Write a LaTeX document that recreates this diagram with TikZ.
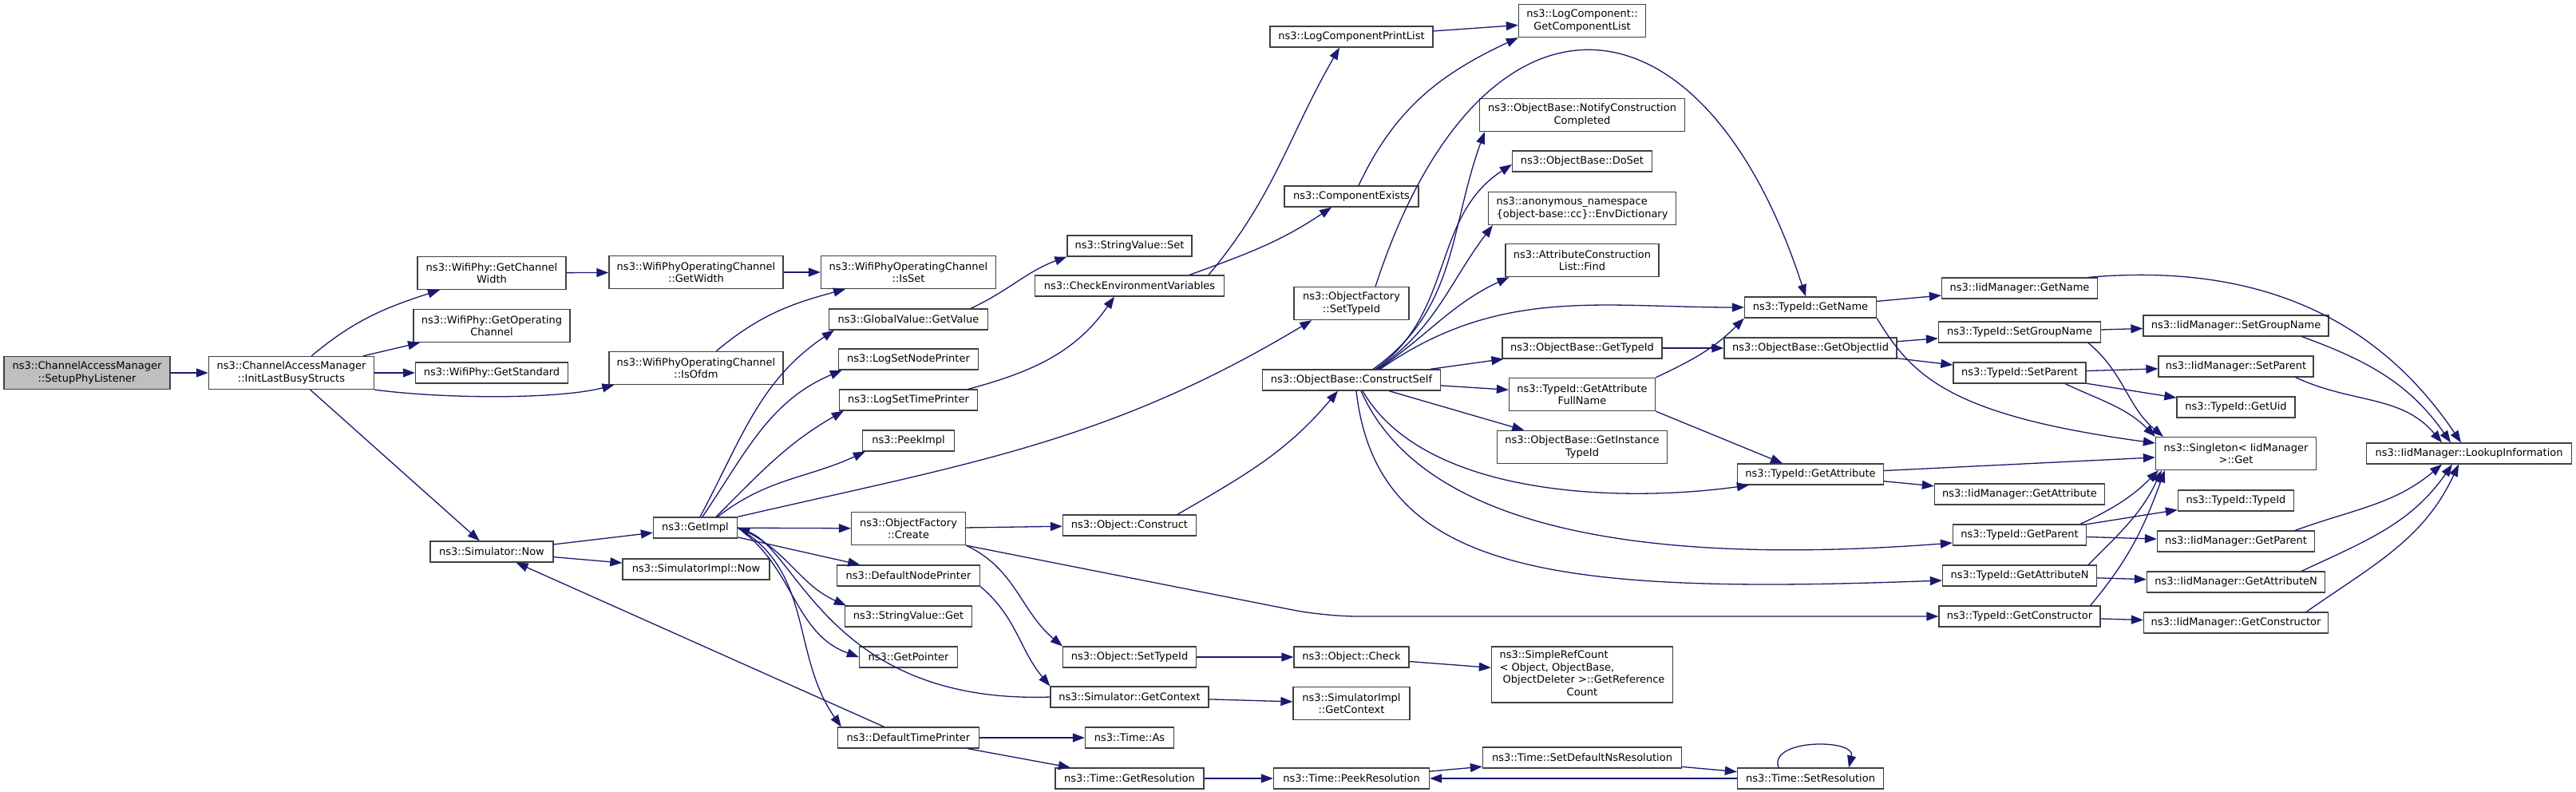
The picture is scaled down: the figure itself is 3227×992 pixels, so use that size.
\documentclass[tikz,border=0pt]{standalone}
\usepackage{fontspec}
\usepackage{tikz}
\usepackage{xcolor}
\usetikzlibrary{arrows.meta}
\newfontfamily\graphfont{DejaVu Sans}
\newcommand{\nodefont}{\graphfont\fontsize{13}{15.5}\selectfont}
\definecolor{midnight}{RGB}{25,25,112}
\definecolor{grey25}{RGB}{64,64,64}
\definecolor{grey75}{RGB}{191,191,191}
\tikzset{
    fn/.style={draw=grey25, fill=white, line width=1.3pt, font=\nodefont, minimum height=26pt, inner sep=1pt, align=center},
    fn2/.style={fn, minimum height=41pt},
    rootfn/.style={fn2, fill=grey75},
    call/.style={draw=midnight, line width=1.3pt, -{Triangle[length=15pt, width=11pt]}}
}
\begin{document}
\begin{tikzpicture}[x=1pt, y=1pt]
\fill[white] (0,0) rectangle (3227,-992);
\useasboundingbox (0,0) rectangle (3227,-992);

% Root and first calls
\node[rootfn, minimum width=208pt] (setup) at (109,-467) {ns3::ChannelAccessManager\\::SetupPhyListener};
\node[fn2, minimum width=207pt] (init) at (365,-467) {ns3::ChannelAccessManager\\::InitLastBusyStructs};
\node[fn2, minimum width=186pt] (gcw) at (616,-342) {ns3::WifiPhy::GetChannel\\Width};
\node[fn2, minimum width=196pt] (goc) at (616,-408) {ns3::WifiPhy::GetOperating\\Channel};
\node[fn, minimum width=191pt] (gstd) at (616,-467) {ns3::WifiPhy::GetStandard};
\node[fn, minimum width=154pt] (now) at (616,-691) {ns3::Simulator::Now};

% Operating channel and simulator
\node[fn2, minimum width=218pt] (owidth) at (872,-341) {ns3::WifiPhyOperatingChannel\\::GetWidth};
\node[fn2, minimum width=218pt] (oofdm) at (872,-461) {ns3::WifiPhyOperatingChannel\\::IsOfdm};
\node[fn, minimum width=105pt] (getimpl) at (871,-661) {ns3::GetImpl};
\node[fn, minimum width=184pt] (simimplnow) at (872,-713) {ns3::SimulatorImpl::Now};

% Callees of GetImpl
\node[fn2, minimum width=219pt] (isset) at (1138,-341) {ns3::WifiPhyOperatingChannel\\::IsSet};
\node[fn, minimum width=199pt] (gval) at (1138,-400) {ns3::GlobalValue::GetValue};
\node[fn, minimum width=175pt] (lnode) at (1138,-450) {ns3::LogSetNodePrinter};
\node[fn, minimum width=173pt] (ltime) at (1138,-501) {ns3::LogSetTimePrinter};
\node[fn, minimum width=115pt] (peek) at (1138,-552) {ns3::PeekImpl};
\node[fn2, minimum width=143pt] (ofcreate) at (1138,-662) {ns3::ObjectFactory\\::Create};
\node[fn, minimum width=179pt] (dnode) at (1138,-721) {ns3::DefaultNodePrinter};
\node[fn, minimum width=159pt] (svget) at (1138,-772) {ns3::StringValue::Get};
\node[fn, minimum width=123pt] (getptr) at (1138,-823) {ns3::GetPointer};
\node[fn, minimum width=177pt] (dtime) at (1138,-924) {ns3::DefaultTimePrinter};

\node[fn, minimum width=156pt] (svset) at (1415,-308) {ns3::StringValue::Set};
\node[fn, minimum width=237pt] (checkenv) at (1415,-358) {ns3::CheckEnvironmentVariables};
\node[fn, minimum width=167pt] (construct) at (1415,-658) {ns3::Object::Construct};
\node[fn, minimum width=167pt] (settypeid) at (1415,-823) {ns3::Object::SetTypeId};
\node[fn, minimum width=198pt] (getctx) at (1415,-873) {ns3::Simulator::GetContext};
\node[fn, minimum width=111pt] (timeas) at (1415,-924) {ns3::Time::As};
\node[fn, minimum width=186pt] (getres) at (1415,-975) {ns3::Time::GetResolution};

% Log components and object construction
\node[fn, minimum width=204pt] (lcpl) at (1693,-46) {ns3::LogComponentPrintList};
\node[fn, minimum width=168pt] (compex) at (1693,-246) {ns3::ComponentExists};
\node[fn2, minimum width=144pt] (ofsettid) at (1693,-380) {ns3::ObjectFactory\\::SetTypeId};
\node[fn, minimum width=223pt] (cself) at (1693,-476) {ns3::ObjectBase::ConstructSelf};
\node[fn, minimum width=144pt] (ocheck) at (1693,-823) {ns3::Object::Check};
\node[fn2, minimum width=146pt] (simimplctx) at (1693,-881) {ns3::SimulatorImpl\\::GetContext};
\node[fn, minimum width=195pt] (peekres) at (1693,-975) {ns3::Time::PeekResolution};

\node[fn2, minimum width=159pt] (lcgcl) at (1982,-26) {ns3::LogComponent::\\GetComponentList};
\node[fn2, minimum width=257pt] (notify) at (1982,-144) {ns3::ObjectBase::NotifyConstruction\\Completed};
\node[fn, minimum width=175pt] (doset) at (1982,-202) {ns3::ObjectBase::DoSet};
\node[fn2, minimum width=235pt, align=left] (envdict) at (1982,-261) {ns3::anonymous\_namespace\\\{object-base::cc\}::EnvDictionary};
\node[fn2, minimum width=192pt] (acfind) at (1982,-326) {ns3::AttributeConstruction\\List::Find};
\node[fn, minimum width=200pt] (obgettid) at (1982,-436) {ns3::ObjectBase::GetTypeId};
\node[fn2, minimum width=183pt] (tgafn) at (1982,-494) {ns3::TypeId::GetAttribute\\FullName};
\node[fn2, minimum width=213pt] (obgetitid) at (1982,-560) {ns3::ObjectBase::GetInstance\\TypeId};
\node[fn, minimum width=227pt, minimum height=70pt] (simpleref) at (1982,-845) {\begin{tabular}{@{}l@{}}ns3::SimpleRefCount\\< Object, ObjectBase,\\\ ObjectDeleter >::GetReference\\\multicolumn{1}{@{}c@{}}{Count}\end{tabular}};
\node[fn, minimum width=249pt] (setdefns) at (1982,-949) {ns3::Time::SetDefaultNsResolution};

% TypeId and IidManager
\node[fn, minimum width=165pt] (tgetname) at (2268,-385) {ns3::TypeId::GetName};
\node[fn, minimum width=216pt] (obgetoid) at (2268,-436) {ns3::ObjectBase::GetObjectIid};
\node[fn, minimum width=183pt] (tgetattr) at (2268,-594) {ns3::TypeId::GetAttribute};
\node[fn, minimum width=183pt] (setres) at (2268,-975) {ns3::Time::SetResolution};

\node[fn, minimum width=195pt] (iidgetname) at (2530,-361) {ns3::IidManager::GetName};
\node[fn, minimum width=203pt] (tsetgroup) at (2530,-416) {ns3::TypeId::SetGroupName};
\node[fn, minimum width=166pt] (tsetparent) at (2530,-467) {ns3::TypeId::SetParent};
\node[fn, minimum width=213pt] (iidgetattr) at (2530,-619) {ns3::IidManager::GetAttribute};
\node[fn, minimum width=167pt] (tgetparent) at (2530,-670) {ns3::TypeId::GetParent};
\node[fn, minimum width=193pt] (tgetattrn) at (2530,-721) {ns3::TypeId::GetAttributeN};
\node[fn, minimum width=202pt] (tgetctor) at (2530,-772) {ns3::TypeId::GetConstructor};

\node[fn, minimum width=232pt] (iidsetgroup) at (2801,-408) {ns3::IidManager::SetGroupName};
\node[fn, minimum width=194pt] (iidsetparent) at (2801,-459) {ns3::IidManager::SetParent};
\node[fn, minimum width=148pt] (tgetuid) at (2801,-510) {ns3::TypeId::GetUid};
\node[fn2, minimum width=201pt] (singleton) at (2801,-568) {ns3::Singleton< IidManager\\>::Get};
\node[fn, minimum width=145pt] (ttypeid) at (2801,-627) {ns3::TypeId::TypeId};
\node[fn, minimum width=197pt] (iidgetparent) at (2801,-678) {ns3::IidManager::GetParent};
\node[fn, minimum width=223pt] (iidgetattrn) at (2801,-729) {ns3::IidManager::GetAttributeN};
\node[fn, minimum width=231pt] (iidgetctor) at (2801,-780) {ns3::IidManager::GetConstructor};
\node[fn, minimum width=257pt] (iidlookup) at (3093,-568) {ns3::IidManager::LookupInformation};

% Calls from the root
\draw[call] (setup) -- (init);
\draw[call] (init) to[out=40, in=198] (gcw);
\draw[call] (init) -- (goc);
\draw[call] (init) -- (gstd);
\draw[call] (init.south east) .. controls (560,-500) and (700,-500) .. ([xshift=7pt]oofdm.south west);
\draw[call] (init) -- (now);
\draw[call] (gcw) -- (owidth);
\draw[call] (owidth) -- (isset);
\draw[call] (oofdm) to[out=40, in=195] (isset);
\draw[call] (now) -- (getimpl);
\draw[call] (now) -- (simimplnow);
\draw[call] (dtime) -- (now);

% Calls from GetImpl
\draw[call] ([xshift=6pt]getimpl.north) to[out=62, in=214] ([xshift=7pt]gval.south west);
\draw[call] ([xshift=9pt]getimpl.north) to[out=56, in=203] ([xshift=5pt]lnode.south west);
\draw[call] ([xshift=26pt]getimpl.north) to[out=45, in=210] ([xshift=6pt]ltime.south west);
\draw[call] ([xshift=28pt]getimpl.north) to[out=38, in=205] ([xshift=4pt]peek.south west);
\draw[call] (getimpl.north east) to[out=13, in=211] ([xshift=23pt]ofsettid.south west);
\draw[call] (getimpl) -- (ofcreate);
\draw[call] (getimpl) -- (dnode);
\draw[call] (getimpl.east) to[out=-22, in=156] ([xshift=2pt]svget.north west);
\draw[call] (getimpl.east) to[out=-35, in=160] (getptr.west);
\draw[call] (getimpl.east) to[out=-30, in=125] ([xshift=5pt]dtime.north west);
\draw[call] (getctx.west) .. controls (1040,-882) and (1000,-690) .. (getimpl.east);

\draw[call] (ofcreate) -- (construct);
\draw[call] (ofcreate.south east) to[out=-25, in=140] (settypeid.north west);
\draw[call, rounded corners=40pt] (ofcreate.south east) -- (1660,-772) -- (tgetctor);
\draw[call] (dnode.south east) to[out=-40, in=130] (getctx.north west);
\draw[call] (settypeid) -- (ocheck);
\draw[call] (getctx) -- (simimplctx);
\draw[call] (dtime) -- (timeas);
\draw[call] (dtime) -- (getres);
\draw[call] (getres) -- (peekres);
\draw[call] (peekres) -- (setdefns);
\draw[call] (setdefns) -- (setres);
\draw[call] (setres) -- (peekres);
\draw[call] ([xshift=-40pt]setres.north) .. controls (2215,-925) and (2325,-925) .. ([xshift=48pt]setres.north);
\draw[call] (ocheck) -- (simpleref);
\draw[call] ([xshift=60pt]construct.north) to[out=30, in=230] ([xshift=-17pt]cself.south);

% Log settings
\draw[call] ([xshift=78pt]gval.north) to[out=25, in=200] (svset.south west);
\draw[call] ([xshift=75pt]ltime.north) to[out=15, in=235] ([xshift=-19pt]checkenv.south);
\draw[call] ([xshift=99pt]checkenv.north) to[out=50, in=240] ([xshift=-15pt]lcpl.south);
\draw[call] ([xshift=75pt]checkenv.north) to[out=20, in=214] ([xshift=-25pt]compex.south);
\draw[call] ([xshift=9pt]compex.north) to[out=65, in=205] (lcgcl.south west);
\draw[call] (lcpl) -- (lcgcl);
\draw[call] ([xshift=30pt]ofsettid.north) to[out=72, in=108, looseness=2] ([xshift=-6pt]tgetname.north);

% Calls from ConstructSelf
\draw[call] ([xshift=27pt]cself.north) to[out=35, in=250] ([xshift=7pt]notify.south west);
\draw[call] ([xshift=30pt]cself.north) to[out=35, in=213] ([yshift=-4pt]doset.west);
\draw[call] ([xshift=32pt]cself.north) to[out=35, in=233] ([xshift=6pt]envdict.south west);
\draw[call] ([xshift=34pt]cself.north) to[out=35, in=205] ([xshift=5pt]acfind.south west);
\draw[call] ([xshift=36pt]cself.north) to[out=35, in=180] (tgetname.west);
\draw[call] (cself) -- (obgettid);
\draw[call] (cself) -- (tgafn);
\draw[call] (cself) -- (obgetitid);
\draw[call] ([xshift=14pt]cself.south) to[out=-60, in=188, looseness=0.8] ([xshift=15pt]tgetattr.south west);
\draw[call] ([xshift=12pt]cself.south) .. controls (1780,-660) and (2050,-710) .. ([yshift=-10pt]tgetparent.west);
\draw[call] ([xshift=6pt]cself.south) .. controls (1725,-720) and (1950,-745) .. ([yshift=-6pt]tgetattrn.west);

% TypeId calls
\draw[call] (obgettid) -- (obgetoid);
\draw[call] (tgafn.north east) to[out=25, in=225] (tgetname.south west);
\draw[call] (tgafn.south east) -- ([xshift=-35pt]tgetattr.north);
\draw[call] (tgetname) -- (iidgetname);
\draw[call] (tgetname.south east) .. controls (2395,-470) and (2440,-520) .. ([yshift=13pt]singleton.west);
\draw[call] (obgetoid) -- (tsetgroup);
\draw[call] (obgetoid) -- (tsetparent);
\draw[call] (tgetattr) -- (singleton);
\draw[call] (tgetattr) -- (iidgetattr);
\draw[call] (tsetgroup) -- (iidsetgroup);
\draw[call] ([xshift=-16pt]tsetgroup.south east) to[out=-40, in=140] ([xshift=10pt]singleton.north west);
\draw[call] (tsetparent) -- (iidsetparent);
\draw[call] (tsetparent) -- (tgetuid);
\draw[call] ([xshift=57pt]tsetparent.south) to[out=-25, in=135] (singleton.north west);
\draw[call] ([xshift=-8pt]tgetparent.north east) to[out=25, in=225] ([xshift=4pt]singleton.south west);
\draw[call] (tgetparent) -- (ttypeid);
\draw[call] (tgetparent) -- (iidgetparent);
\draw[call] ([xshift=-11pt]tgetattrn.north east) to[out=45, in=245] ([xshift=8pt]singleton.south west);
\draw[call] (tgetattrn) -- (iidgetattrn);
\draw[call] ([xshift=-13pt]tgetctor.north east) to[out=50, in=250] ([xshift=12pt]singleton.south west);
\draw[call] (tgetctor) -- (iidgetctor);

% Lookups
\draw[call] ([xshift=-12pt]iidgetname.north east) to[out=5, in=124] ([xshift=-10pt]iidlookup.north);
\draw[call] ([xshift=-34pt]iidsetgroup.south east) to[out=-20, in=125] ([xshift=-23pt]iidlookup.north);
\draw[call] ([xshift=-23pt]iidsetparent.south east) to[out=-25, in=130] ([xshift=-34pt]iidlookup.north);
\draw[call] ([xshift=-25pt]iidgetparent.north east) to[out=20, in=220] ([xshift=-34pt]iidlookup.south);
\draw[call] ([xshift=-30pt]iidgetattrn.north east) to[out=25, in=235] ([xshift=-21pt]iidlookup.south);
\draw[call] ([xshift=-28pt]iidgetctor.north east) to[out=35, in=245] ([xshift=-13pt]iidlookup.south);
\end{tikzpicture}
\end{document}
